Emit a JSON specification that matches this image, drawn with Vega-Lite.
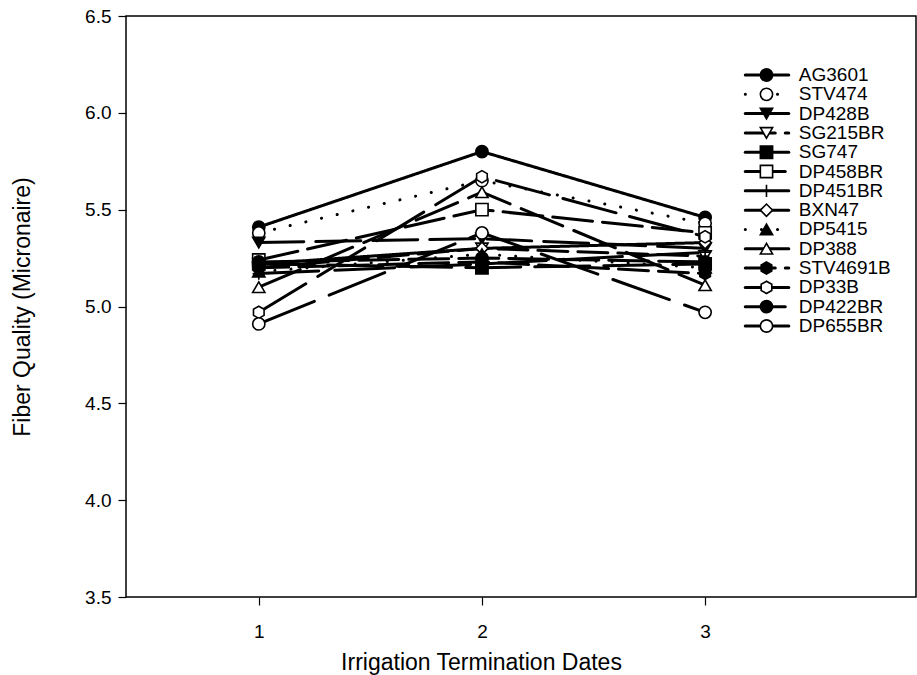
{
  "$schema": "https://vega.github.io/schema/vega-lite/v6.json",
  "width": 790,
  "height": 581,
  "autosize": "none",
  "padding": {"left": 126, "top": 16, "right": 1, "bottom": 78},
  "background": "white",
  "config": {
    "font": "Liberation Sans",
    "view": {"stroke": "black", "strokeWidth": 1.5},
    "axis": {"grid": false, "domain": false, "tickColor": "black", "tickWidth": 1.2, "tickSize": 8, "labelColor": "black", "titleColor": "black", "labelFont": "Liberation Sans", "titleFont": "Liberation Sans", "titleFontWeight": "normal", "labelFontSize": 19, "titleFontSize": 23}
  },
  "datasets": {
    "main": [
      {"series": "AG3601", "date": 1, "value": 5.41}, {"series": "AG3601", "date": 2, "value": 5.80}, {"series": "AG3601", "date": 3, "value": 5.46},
      {"series": "STV474", "date": 1, "value": 5.38}, {"series": "STV474", "date": 2, "value": 5.65}, {"series": "STV474", "date": 3, "value": 5.43},
      {"series": "DP428B", "date": 1, "value": 5.33}, {"series": "DP428B", "date": 2, "value": 5.35}, {"series": "DP428B", "date": 3, "value": 5.30},
      {"series": "SG215BR", "date": 1, "value": 5.20}, {"series": "SG215BR", "date": 2, "value": 5.30}, {"series": "SG215BR", "date": 3, "value": 5.26},
      {"series": "SG747", "date": 1, "value": 5.22}, {"series": "SG747", "date": 2, "value": 5.20}, {"series": "SG747", "date": 3, "value": 5.22},
      {"series": "DP458BR", "date": 1, "value": 5.24}, {"series": "DP458BR", "date": 2, "value": 5.50}, {"series": "DP458BR", "date": 3, "value": 5.38},
      {"series": "DP451BR", "date": 1, "value": 5.17}, {"series": "DP451BR", "date": 2, "value": 5.22}, {"series": "DP451BR", "date": 3, "value": 5.28},
      {"series": "BXN47", "date": 1, "value": 5.22}, {"series": "BXN47", "date": 2, "value": 5.30}, {"series": "BXN47", "date": 3, "value": 5.33},
      {"series": "DP5415", "date": 1, "value": 5.18}, {"series": "DP5415", "date": 2, "value": 5.27}, {"series": "DP5415", "date": 3, "value": 5.20},
      {"series": "DP388", "date": 1, "value": 5.10}, {"series": "DP388", "date": 2, "value": 5.59}, {"series": "DP388", "date": 3, "value": 5.11},
      {"series": "STV4691B", "date": 1, "value": 5.20}, {"series": "STV4691B", "date": 2, "value": 5.23}, {"series": "STV4691B", "date": 3, "value": 5.17},
      {"series": "DP33B", "date": 1, "value": 4.97}, {"series": "DP33B", "date": 2, "value": 5.67}, {"series": "DP33B", "date": 3, "value": 5.36},
      {"series": "DP422BR", "date": 1, "value": 5.23}, {"series": "DP422BR", "date": 2, "value": 5.25}, {"series": "DP422BR", "date": 3, "value": 5.23},
      {"series": "DP655BR", "date": 1, "value": 4.91}, {"series": "DP655BR", "date": 2, "value": 5.38}, {"series": "DP655BR", "date": 3, "value": 4.97}
    ],
    "legend": [
      {"series": "AG3601"}, {"series": "STV474"}, {"series": "DP428B"}, {"series": "SG215BR"}, {"series": "SG747"}, {"series": "DP458BR"}, {"series": "DP451BR"},
      {"series": "BXN47"}, {"series": "DP5415"}, {"series": "DP388"}, {"series": "STV4691B"}, {"series": "DP33B"}, {"series": "DP422BR"}, {"series": "DP655BR"}
    ]
  },
  "layer": [
    {
      "data": {"name": "main"},
      "encoding": {
        "x": {"field": "date", "type": "quantitative", "scale": {"domain": [0.405, 3.945], "nice": false, "zero": false},
              "axis": {"values": [1, 2, 3], "format": "d", "title": "Irrigation Termination Dates", "labelFontSize": 19, "titleFontSize": 23, "labelPadding": 17, "titlePadding": 10, "titleX": 355}},
        "y": {"field": "value", "type": "quantitative", "scale": {"domain": [3.5, 6.5], "nice": false, "zero": false},
              "axis": {"values": [3.5, 4.0, 4.5, 5.0, 5.5, 6.0, 6.5], "format": ".1f", "title": "Fiber Quality (Micronaire)", "labelFontSize": 19, "titleFontSize": 23, "labelPadding": 7, "titlePadding": 50}}
      },
      "layer": [
        {
          "mark": {"type": "line", "color": "black", "strokeWidth": 3, "strokeCap": "round"},
          "encoding": {
            "detail": {"field": "series"},
            "strokeDash": {"field": "series", "type": "nominal", "legend": null,
              "scale": {"domain": ["AG3601", "STV474", "DP428B", "SG215BR", "SG747", "DP458BR", "DP451BR", "BXN47", "DP5415", "DP388", "STV4691B", "DP33B", "DP422BR", "DP655BR"],
                        "range": [[1, 0], [0.1, 16], [45, 12], [30, 10], [55, 14], [40, 10], [60, 16], [1, 0], [0.1, 16], [45, 12], [30, 10], [55, 14], [40, 10], [60, 16]]}}
          }
        },
        {
          "mark": {"type": "point", "stroke": "black", "strokeWidth": 1.6, "opacity": 1, "size": 150},
          "encoding": {
            "shape": {"field": "series", "type": "nominal", "legend": null,
              "scale": {"domain": ["AG3601", "STV474", "DP428B", "SG215BR", "SG747", "DP458BR", "DP451BR", "BXN47", "DP5415", "DP388", "STV4691B", "DP33B", "DP422BR", "DP655BR"],
                        "range": ["circle", "circle", "triangle-down", "triangle-down", "square", "square", "M-1,0L1,0M0,-1L0,1", "diamond", "triangle-up", "triangle-up", "M0,-1L0.866,-0.5L0.866,0.5L0,1L-0.866,0.5L-0.866,-0.5Z", "M0,-1L0.866,-0.5L0.866,0.5L0,1L-0.866,0.5L-0.866,-0.5Z", "circle", "circle"]}},
            "fill": {"field": "series", "type": "nominal", "legend": null,
              "scale": {"domain": ["AG3601", "STV474", "DP428B", "SG215BR", "SG747", "DP458BR", "DP451BR", "BXN47", "DP5415", "DP388", "STV4691B", "DP33B", "DP422BR", "DP655BR"],
                        "range": ["black", "white", "black", "white", "black", "white", "black", "white", "black", "white", "black", "white", "black", "white"]}}
          }
        }
      ]
    },
    {
      "data": {"name": "legend"},
      "encoding": {
        "y": {"field": "series", "type": "nominal", "sort": null, "axis": null,
              "scale": {"type": "point", "range": [59, 310], "padding": 0}}
      },
      "layer": [
        {
          "mark": {"type": "rule", "color": "black", "strokeWidth": 3, "strokeCap": "round"},
          "encoding": {
            "x": {"datum": 3.18, "type": "quantitative"},
            "x2": {"datum": 3.375},
            "strokeDash": {"field": "series", "type": "nominal", "legend": null}
          }
        },
        {
          "mark": {"type": "point", "stroke": "black", "strokeWidth": 1.6, "opacity": 1, "size": 150},
          "encoding": {
            "x": {"datum": 3.275, "type": "quantitative"},
            "shape": {"field": "series", "type": "nominal", "legend": null},
            "fill": {"field": "series", "type": "nominal", "legend": null}
          }
        },
        {
          "mark": {"type": "text", "align": "left", "baseline": "middle", "fontSize": 19, "font": "Liberation Sans", "color": "black"},
          "encoding": {
            "x": {"datum": 3.42, "type": "quantitative"},
            "text": {"field": "series"}
          }
        }
      ]
    }
  ],
  "resolve": {"scale": {"y": "independent"}, "axis": {"y": "independent"}}
}
